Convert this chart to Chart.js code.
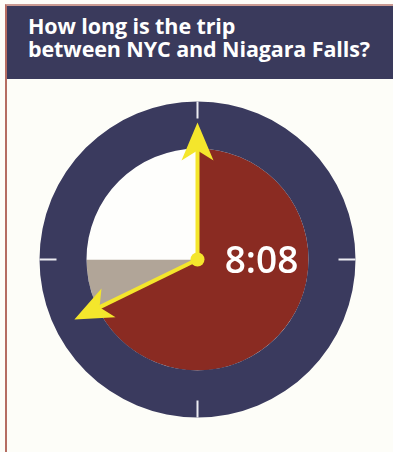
<!DOCTYPE html>
<html>
<head>
<meta charset="utf-8">
<script src="https://cdn.jsdelivr.net/npm/chart.js@4.4.1/dist/chart.umd.min.js"></script>
<style>
  html, body { margin: 0; padding: 0; background: #fdfdf8; }
  #page { position: relative; width: 393px; height: 452px; overflow: hidden; }
  #frame {
    position: absolute; left: 5px; top: 4px; right: 0; bottom: 0;
    border-left: 2px solid #b56d62; border-top: 2px solid #c99a92;
  }
  #header {
    position: absolute; left: 7px; top: 6px; right: 0; height: 73px;
    box-sizing: border-box; padding: 8px 0 0 21px;
    background: #3a3a5c; color: #fff;
    font-family: "Open Sans", sans-serif; font-weight: 700;
    font-size: 21.5px; line-height: 23px; letter-spacing: -0.1px;
  }
  #clock { position: absolute; left: 0; top: 79px; }
</style>
</head>
<body>
<div id="page">
  <div id="frame"></div>
  <div id="header">How long is the trip<br>between NYC and Niagara Falls?</div>
  <canvas id="clock" width="395" height="361"></canvas>
</div>
<script>
// ===== Data =====
const faceLabels = ["Trip", "Up to 9 hours", "Rest of the clock"];
const faceMinutes = [488, 52, 180];   // 8:08, then up to 9:00, then the rest of 12 hours
const ringMinutes = [720];
const tickHours = [0, 3, 6, 9];

// ===== Colours =====
const navy = "#3a3a5e";
const faceColors = ["#8a2b22", "#b1a598", "#fefefc"];
const yellow = "#f4e62c";

function formatTime(min) {
  return Math.floor(min / 60) + ":" + String(min % 60).padStart(2, "0");
}

// Draws one yellow hand with a barbed arrowhead
function drawHand(ctx, cx, cy, angle, len) {
  const dx = Math.cos(angle), dy = Math.sin(angle);
  const nx = -dy, ny = dx;
  const headLen = 38, headHalf = 16, notch = 28;

  ctx.strokeStyle = yellow;
  ctx.lineWidth = 4;
  ctx.beginPath();
  ctx.moveTo(cx, cy);
  ctx.lineTo(cx + dx * (len - notch + 2), cy + dy * (len - notch + 2));
  ctx.stroke();

  const tx = cx + dx * len, ty = cy + dy * len;
  const bx = cx + dx * (len - headLen), by = cy + dy * (len - headLen);
  const mx = cx + dx * (len - notch), my = cy + dy * (len - notch);
  ctx.fillStyle = yellow;
  ctx.beginPath();
  ctx.moveTo(tx, ty);
  ctx.lineTo(bx + nx * headHalf, by + ny * headHalf);
  ctx.lineTo(mx, my);
  ctx.lineTo(bx - nx * headHalf, by - ny * headHalf);
  ctx.closePath();
  ctx.fill();
}

// ===== Ticks, hands and time label =====
const clockHands = {
  id: "clockHands",
  afterDatasetsDraw(chart) {
    const ctx = chart.ctx;
    const ring = chart.getDatasetMeta(0).data[0];
    const trip = chart.getDatasetMeta(1).data[0];
    const cx = ring.x, cy = ring.y;
    const R = ring.outerRadius;

    ctx.save();

    // hour ticks on the outer ring
    ctx.strokeStyle = "#ececf2";
    ctx.lineWidth = 2;
    tickHours.forEach(h => {
      const a = -Math.PI / 2 + h / 12 * Math.PI * 2;
      ctx.beginPath();
      ctx.moveTo(cx + Math.cos(a) * R, cy + Math.sin(a) * R);
      ctx.lineTo(cx + Math.cos(a) * (R - 17), cy + Math.sin(a) * (R - 17));
      ctx.stroke();
    });

    // hands at the start and the end of the trip sector
    drawHand(ctx, cx, cy, trip.startAngle, 137);
    drawHand(ctx, cx, cy, trip.endAngle, 137);

    ctx.fillStyle = yellow;
    ctx.beginPath();
    ctx.arc(cx, cy, 7, 0, Math.PI * 2);
    ctx.fill();

    // trip time
    ctx.fillStyle = "#fff";
    ctx.font = "600 37px 'Open Sans', sans-serif";
    ctx.textAlign = "center";
    ctx.textBaseline = "alphabetic";
    ctx.fillText(formatTime(faceMinutes[0]), cx + 64, cy + 13);

    ctx.restore();
  }
};

// ===== Chart =====
new Chart(document.getElementById("clock"), {
  type: "doughnut",
  data: {
    labels: faceLabels,
    datasets: [
      { data: ringMinutes, backgroundColor: [navy], borderWidth: 0, weight: 47 },
      { data: faceMinutes, backgroundColor: faceColors, borderWidth: 0, weight: 111 }
    ]
  },
  options: {
    responsive: false,
    animation: false,
    events: [],
    radius: 158,
    cutout: 0,
    layout: { padding: 0 },
    plugins: {
      legend: { display: false },
      tooltip: { enabled: false }
    }
  },
  plugins: [clockHands]
});
</script>
</body>
</html>
